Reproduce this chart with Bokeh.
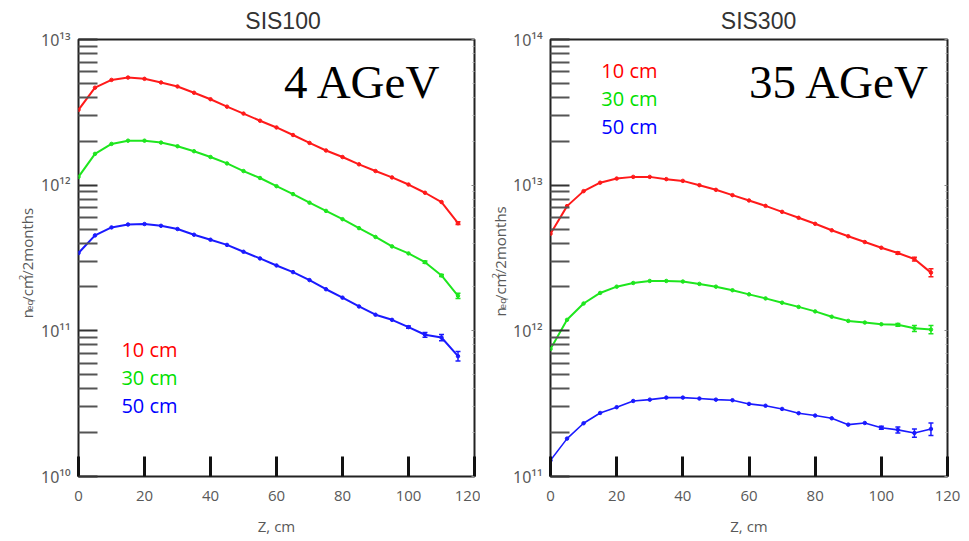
import math
from bokeh.plotting import figure
from bokeh.layouts import row
from bokeh.models import (FixedTicker, LogAxis, Range1d, ColumnDataSource,
                          Whisker, TeeHead)
from bokeh.core.properties import value
from bokeh.embed import file_html
from bokeh.resources import INLINE

# ---------------- data ----------------
z_cm = [0, 5, 10, 15, 20, 25, 30, 35, 40, 45, 50, 55, 60, 65, 70, 75, 80, 85, 90, 95,
        100, 105, 110, 115]

x_ticks = [0, 20, 40, 60, 80, 100, 120]
series_names = ["10 cm", "30 cm", "50 cm"]

# SIS100, 4 AGeV
sis100_10cm = [3.29e12, 4.67e12, 5.28e12, 5.48e12, 5.37e12, 5.07e12, 4.76e12, 4.31e12,
               3.89e12, 3.46e12, 3.10e12, 2.77e12, 2.49e12, 2.21e12, 1.95e12, 1.73e12,
               1.56e12, 1.39e12, 1.25e12, 1.13e12, 1.01e12, 8.87e11, 7.66e11, 5.48e11]
sis100_30cm = [1.14e12, 1.64e12, 1.92e12, 2.02e12, 2.02e12, 1.96e12, 1.85e12, 1.71e12,
               1.56e12, 1.41e12, 1.25e12, 1.12e12, 9.84e11, 8.68e11, 7.58e11, 6.66e11,
               5.84e11, 5.07e11, 4.41e11, 3.80e11, 3.40e11, 2.96e11, 2.40e11, 1.74e11]
sis100_50cm = [3.42e11, 4.52e11, 5.13e11, 5.37e11, 5.41e11, 5.26e11, 5.00e11, 4.57e11,
               4.22e11, 3.89e11, 3.49e11, 3.14e11, 2.81e11, 2.53e11, 2.23e11, 1.93e11,
               1.69e11, 1.47e11, 1.29e11, 1.19e11, 1.06e11, 9.4e10, 9.0e10, 6.7e10]
sis100_10cm_err = [0, 0, 0, 0, 0, 0, 0, 0, 0, 0, 0, 0, 0, 0, 0, 0, 0, 0, 0, 0,
                   0, 0, 0, 1.2e10]
sis100_30cm_err = [0, 0, 0, 0, 0, 0, 0, 0, 0, 0, 0, 0, 0, 0, 0, 0, 0, 0, 0, 0,
                   0, 5e9, 4e9, 7e9]
sis100_50cm_err = [0, 0, 0, 0, 0, 0, 0, 0, 0, 0, 0, 0, 0, 0, 0, 0, 0, 0, 0, 0,
                   2e9, 3.5e9, 4.5e9, 5e9]

# SIS300, 35 AGeV
sis300_10cm = [4.64e12, 7.18e12, 9.10e12, 1.04e13, 1.11e13, 1.14e13, 1.14e13, 1.10e13,
               1.07e13, 1.00e13, 9.29e12, 8.54e12, 7.85e12, 7.21e12, 6.56e12, 5.97e12,
               5.43e12, 4.90e12, 4.46e12, 4.07e12, 3.72e12, 3.42e12, 3.11e12, 2.51e12]
sis300_30cm = [7.5e11, 1.19e12, 1.54e12, 1.82e12, 2.01e12, 2.13e12, 2.20e12, 2.20e12,
               2.18e12, 2.10e12, 2.01e12, 1.90e12, 1.78e12, 1.67e12, 1.56e12, 1.46e12,
               1.36e12, 1.25e12, 1.17e12, 1.14e12, 1.11e12, 1.10e12, 1.04e12, 1.02e12]
sis300_50cm = [1.29e11, 1.82e11, 2.32e11, 2.73e11, 2.99e11, 3.30e11, 3.37e11, 3.48e11,
               3.48e11, 3.43e11, 3.37e11, 3.34e11, 3.15e11, 3.06e11, 2.91e11, 2.72e11,
               2.62e11, 2.51e11, 2.27e11, 2.33e11, 2.16e11, 2.09e11, 1.99e11, 2.12e11]
sis300_10cm_err = [0, 0, 0, 0, 0, 0, 0, 0, 0, 0, 0, 0, 0, 0, 0, 0, 0, 0, 0, 0,
                   0, 6e10, 9e10, 1.6e11]
sis300_30cm_err = [0, 0, 0, 0, 0, 0, 0, 0, 0, 0, 0, 0, 0, 0, 0, 0, 0, 0, 0, 0,
                   0, 2.5e10, 5e10, 6.6e10]
sis300_50cm_err = [0, 0, 0, 0, 0, 0, 0, 0, 0, 0, 0, 0, 0, 0, 0, 0, 0, 0, 0, 0,
                   5e9, 1e10, 1.3e10, 2.1e10]

colors = ["#ff1a1a", "#1ee61e", "#1a1aff"]
text_colors = ["#ff0000", "#00e000", "#0000ff"]

SUP = str.maketrans("0123456789", "⁰¹²³⁴⁵⁶⁷⁸⁹")
H = 541


def ylabel_strip(width, center_x, y_bottom):
    """Narrow figure holding the rotated axis title n_eq/cm^2/2months."""
    s = figure(width=width, height=H, x_range=Range1d(0, width), y_range=Range1d(0, H),
               output_backend="svg", toolbar_location=None,
               x_axis_location=None, y_axis_location=None,
               min_border_left=0, min_border_right=0, min_border_top=0,
               min_border_bottom=0)
    s.outline_line_color = None
    s.xgrid.grid_line_color = None
    s.ygrid.grid_line_color = None
    s.background_fill_color = "white"
    s.border_fill_color = "white"
    pieces = [("n", 15, 0, 9.2), ("eq", 9.5, 3, 11.2), ("/cm", 15, 0, 26.7),
              ("2", 9.5, -4.5, 5.4), ("/2months", 15, 0, 68)]
    yy = H - y_bottom
    for txt, fs, dx, adv in pieces:
        s.text(x=[center_x + dx], y=[yy], text=[txt], angle=math.pi / 2,
               text_align="left", text_baseline="middle",
               text_font=value("Open Sans"), text_font_size=f"{fs}px",
               text_color="#595959")
        yy += adv
    return s


def make_panel(title, energy, series, errors, exp_lo, exp_hi, width, bl, br, bb,
               title_dx, label_pos, energy_pos, blue_width):
    bt = 38
    p = figure(width=width, height=H, y_axis_type="log",
               x_range=Range1d(0, 120), y_range=Range1d(10 ** exp_lo, 10 ** exp_hi),
               output_backend="svg", toolbar_location=None, title=title,
               min_border_left=bl, min_border_right=br, min_border_top=bt,
               min_border_bottom=bb)
    p.background_fill_color = "white"
    p.border_fill_color = "white"
    p.xgrid.grid_line_color = None
    p.ygrid.grid_line_color = None
    p.outline_line_color = "#222222"
    p.outline_line_width = 2

    frame_h = H - bt - bb
    frame_w = width - bl - br

    p.title.align = "left"
    p.title.offset = frame_w / 2 + title_dx - 37.7
    p.title.standoff = 11
    p.title.text_font = "Liberation Sans"
    p.title.text_font_size = "23px"
    p.title.text_font_style = "normal"
    p.title.text_color = "#333333"

    # x axis
    xa = p.xaxis[0]
    xa.ticker = FixedTicker(ticks=x_ticks, minor_ticks=[])
    xa.axis_line_color = None
    xa.major_tick_in = 20
    xa.major_tick_out = 0
    xa.major_tick_line_width = 3
    xa.major_tick_line_color = "#111111"
    xa.major_label_standoff = 14
    xa.major_label_text_font = "Open Sans"
    xa.major_label_text_font_size = "15px"
    xa.major_label_text_color = "#595959"
    xa.axis_label = "Z, cm"
    xa.axis_label_text_font = "Open Sans"
    xa.axis_label_text_font_size = "15px"
    xa.axis_label_text_font_style = "normal"
    xa.axis_label_text_color = "#595959"
    xa.axis_label_standoff = 12

    # y axis
    exps = list(range(exp_lo, exp_hi + 1))
    majors = [10.0 ** e for e in exps]
    minors = [m * 10.0 ** e for e in exps[:-1] for m in range(2, 10)]
    ya = p.yaxis[0]
    ya.ticker = FixedTicker(ticks=majors, minor_ticks=minors)
    ya.axis_line_color = None
    ya.major_tick_in = 19
    ya.major_tick_out = 0
    ya.major_tick_line_width = 2
    ya.major_tick_line_color = "#333333"
    ya.minor_tick_in = 19
    ya.minor_tick_out = 0
    ya.minor_tick_line_width = 2
    ya.minor_tick_line_color = "#555555"
    ya.major_label_standoff = 8
    ya.major_label_text_font = "Noto Sans"
    ya.major_label_text_font_size = "16px"
    ya.major_label_text_color = "#595959"
    ya.major_label_overrides = {10.0 ** e: "10" + str(e).translate(SUP) for e in exps}

    ra = LogAxis(ticker=FixedTicker(ticks=majors, minor_ticks=minors))
    ra.axis_line_color = None
    ra.major_tick_in = 3
    ra.major_tick_out = 0
    ra.minor_tick_in = 2
    ra.minor_tick_out = 0
    ra.major_tick_line_color = "#888888"
    ra.minor_tick_line_color = "#aaaaaa"
    ra.major_label_text_color = None
    ra.major_label_text_font_size = "1px"
    ra.major_label_standoff = 0
    p.add_layout(ra, "right")

    # data
    for i, (vals, errs) in enumerate(zip(series, errors)):
        lw = blue_width if i == 2 else 2
        p.line(z_cm, vals, line_color=colors[i], line_width=lw)
        p.scatter(z_cm, vals, size=3.5, color=colors[i])
        zz = [zc for zc, e in zip(z_cm, errs) if e > 0]
        up = [v + e for v, e in zip(vals, errs) if e > 0]
        lo = [v - e for v, e in zip(vals, errs) if e > 0]
        src = ColumnDataSource(dict(base=zz, upper=up, lower=lo))
        p.add_layout(Whisker(source=src, base="base", upper="upper", lower="lower",
                             line_color=colors[i], line_width=1.5,
                             upper_head=TeeHead(size=5, line_color=colors[i], line_width=1.5),
                             lower_head=TeeHead(size=5, line_color=colors[i], line_width=1.5)))

    # screen offset within frame -> data coordinates
    def to_data(sx, sy):
        return 120.0 * sx / frame_w, 10 ** (exp_lo + (exp_hi - exp_lo) * sy / frame_h)

    ex, ey = to_data(*energy_pos)
    p.text(x=[ex], y=[ey], text=[energy], text_align="left", text_baseline="middle",
           text_font=value("Liberation Serif"), text_font_size="47px", text_color="#000000")
    for i, name in enumerate(series_names):
        lx, ly = to_data(label_pos[0], label_pos[1] - i * label_pos[2])
        p.text(x=[lx], y=[ly], text=[name], text_align="left", text_baseline="middle",
               text_font=value("Open Sans"), text_font_size="20px",
               text_color=text_colors[i])
    return p


s1 = ylabel_strip(37, 26, 345)
p1 = make_panel("SIS100", "4 AGeV", [sis100_10cm, sis100_30cm, sis100_50cm],
                [sis100_10cm_err, sis100_30cm_err, sis100_50cm_err], 10, 13,
                width=443, bl=40, br=6, bb=62, title_dx=6,
                label_pos=(43, 128, 28), energy_pos=(206, 398), blue_width=2)
s2 = ylabel_strip(29, 19, 343)
p2 = make_panel("SIS300", "35 AGeV", [sis300_10cm, sis300_30cm, sis300_50cm],
                [sis300_10cm_err, sis300_30cm_err, sis300_50cm_err], 11, 14,
                width=460, bl=40, br=22, bb=65, title_dx=9,
                label_pos=(51, 407, 28), energy_pos=(199, 395), blue_width=1.6)

layout = row(s1, p1, s2, p2, spacing=0)
open("out.html", "w").write(file_html(layout, INLINE))
